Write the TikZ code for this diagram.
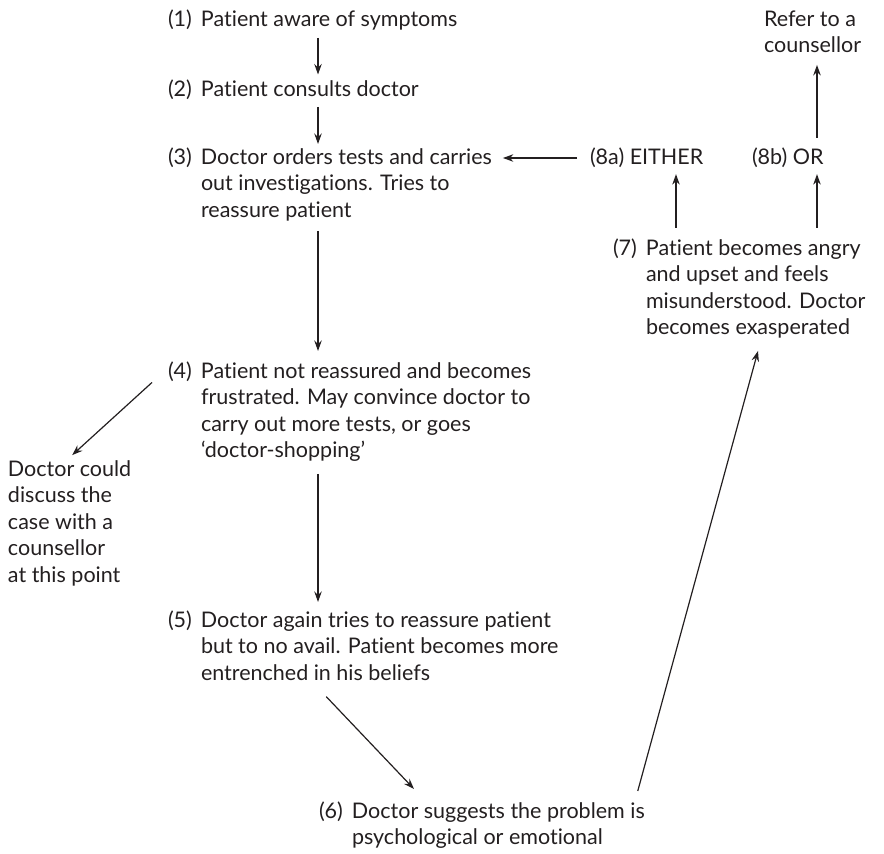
\documentclass[tikz,border=0pt]{standalone}
\usepackage{fontspec}
\setmainfont{Lato}[Ligatures={NoCommon}]
\usetikzlibrary{arrows.meta,calc}

% numbered step: number in a fixed-width box, text lines stacked beside it
\newcommand\numtext[2]{\makebox[33pt][l]{#1}\begin{tabular}[t]{@{}l@{}}#2\end{tabular}}

\begin{document}
\begin{tikzpicture}[x=1pt,y=-1pt,
  txt/.style={inner sep=0pt,outer sep=0pt,anchor=base west,text=ink,
    font=\fontsize{21.5}{26.5}\selectfont},
  arr/.style={draw=ink,line width=1.2pt,-{Stealth[length=10.5pt,width=7.5pt,inset=3.5pt]}}]
\definecolor{ink}{HTML}{231F20}
\useasboundingbox (0,0) rectangle (884,854);

% column positions of the vertical connectors
\coordinate (spine) at (318,0);
\coordinate (xa) at (676,0);
\coordinate (xb) at (817,0);

% steps
\node[txt] (n1) at (168,26) {\numtext{(1)}{Patient aware of symptoms}};
\node[txt] (n2) at (168,96) {\numtext{(2)}{Patient consults doctor}};
\node[txt] (n3) at (168,164) {\numtext{(3)}{Doctor orders tests and carries\\out investigations. Tries to\\reassure patient}};
\node[txt] (n8a) at (590,164) {(8a) EITHER};
\node[txt] (n8b) at (752,164) {(8b) OR};
\node[txt] (ref) at (764,26) {\begin{tabular}[t]{@{}l@{}}Refer to a\\counsellor\end{tabular}};
\node[txt] (n7) at (613,255) {\numtext{(7)}{Patient becomes angry\\and upset and feels\\misunderstood. Doctor\\becomes exasperated}};
\node[txt] (n4) at (168,378) {\numtext{(4)}{Patient not reassured and becomes\\frustrated. May convince doctor to\\carry out more tests, or goes\\`doctor-shopping'}};
\node[txt] (side) at (8,476) {\begin{tabular}[t]{@{}l@{}}Doctor could\\discuss the\\case with a\\counsellor\\at this point\end{tabular}};
\node[txt] (n5) at (168,627) {\numtext{(5)}{Doctor again tries to reassure patient\\but to no avail. Patient becomes more\\entrenched in his beliefs}};
\node[txt] (n6) at (319,818) {\numtext{(6)}{Doctor suggests the problem is\\psychological or emotional}};

% connectors
\draw[arr,shorten <=4pt,shorten >=3pt] (n1.south -| spine) -- (n2.north -| spine);
\draw[arr,shorten <=3pt,shorten >=1.5pt] (n2.south -| spine) -- (n3.north -| spine);
\draw[arr] ($(n8a.base west)+(-13,-6)$) -- ($(n3.base east)+(11,-6)$);
\draw[arr,shorten <=9.5pt,shorten >=4.5pt] (n8b.north -| xb) -- (ref.south -| xb);
\draw[arr,shorten <=8.5pt,shorten >=7pt] (n7.north -| xa) -- (n8a.south -| xa);
\draw[arr,shorten <=8.5pt,shorten >=7pt] (n7.north -| xb) -- (n8b.south -| xb);
\draw[arr,shorten <=6pt,shorten >=8.5pt] (n3.south -| spine) -- (n4.north -| spine);
\draw[arr,shorten >=3.5pt] ($(n4.north west)+(-16,23)$) -- (side.north);
\draw[arr,shorten <=8.5pt,shorten >=6.5pt] (n4.south -| spine) -- (n5.north -| spine);
\draw[arr,shorten <=12pt] (n5.south -| spine) -- ($(n6.north west)+(95,-10.5)$);
\draw[arr] ($(n6.north east)+(-7,-8.5)$) -- ($(n7.south west)+(145,8.5)$);
\end{tikzpicture}
\end{document}
